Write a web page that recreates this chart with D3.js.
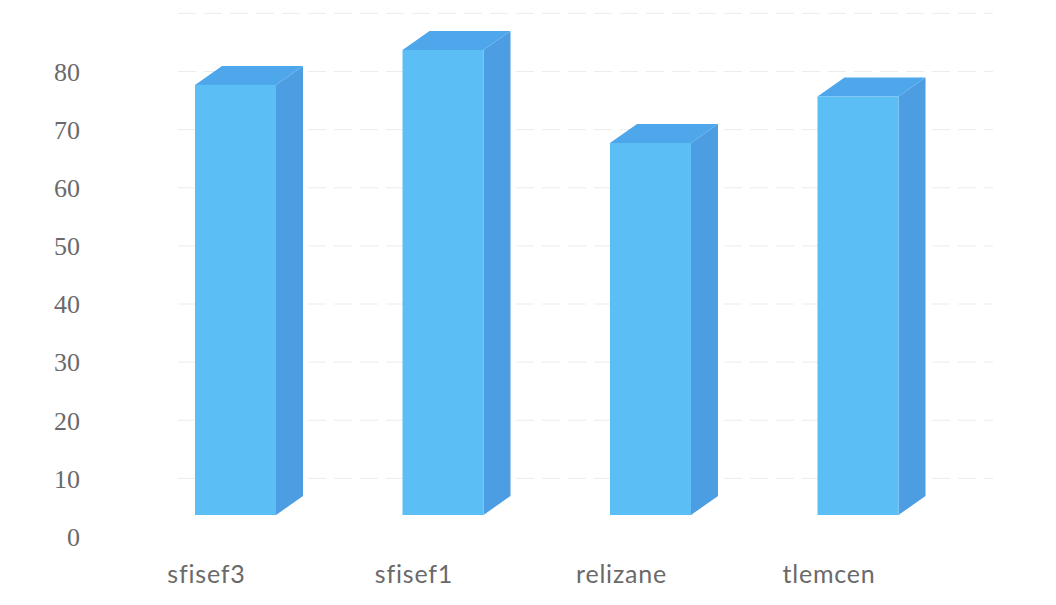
<!DOCTYPE html>
<html>
<head>
<meta charset="utf-8">
<script src="https://cdn.jsdelivr.net/npm/d3@7"></script>
<style>
  html, body { margin: 0; padding: 0; background: #ffffff; }
  svg { display: block; }
</style>
</head>
<body>
<svg id="chart" width="1056" height="605"></svg>
<script>
// Site names and their values
const categories = ["sfisef3", "sfisef1", "relizane", "tlemcen"];
const values = [74, 80, 64, 72];
const tickValues = [0, 10, 20, 30, 40, 50, 60, 70, 80];
const gridValues = [10, 20, 30, 40, 50, 60, 70, 80, 90];

const svg = d3.select("#chart");

// Front-face value scale
const y = d3.scaleLinear().domain([0, 80]).range([515, 50]);
// Back-wall (gridline / tick label) positions sit slightly lower in the projection
const wall = v => y(v) + 21.5;

// Column centres (front face)
const x = d3.scalePoint().domain(categories).range([235.5, 858]);
const barW = 81;
const depthX = 27, depthY = -19;

const colors = { front: "#5bbef4", top: "#4ea7ea", side: "#4c9de2" };

// Back-wall gridlines
svg.append("g")
  .selectAll("line")
  .data(gridValues)
  .join("line")
  .attr("x1", 178).attr("x2", 993)
  .attr("y1", d => wall(d)).attr("y2", d => wall(d))
  .attr("stroke", "#ececec")
  .attr("stroke-width", 1)
  .attr("stroke-dasharray", "18 8");

// Value axis labels
const yAxis = d3.axisLeft(d3.scaleLinear().domain([0, 80]).range([wall(0), wall(80)]))
  .tickValues(tickValues)
  .tickSize(0)
  .tickPadding(0);
const yg = svg.append("g").attr("transform", "translate(80,0)").call(yAxis);
yg.select(".domain").remove();
yg.selectAll("text")
  .attr("fill", "#6a6a6a")
  .attr("font-family", "'Liberation Serif', 'DejaVu Serif', serif")
  .attr("font-size", 26)
  .attr("dy", "0.34em");

// 3D columns
const bars = svg.append("g").selectAll("g")
  .data(categories.map((c, i) => ({ c, v: values[i] })))
  .join("g");

bars.each(function (d) {
  const g = d3.select(this);
  const x0 = x(d.c) - barW / 2, x1 = x0 + barW;
  const yt = y(d.v), yb = y(0);
  // side face
  g.append("path")
    .attr("d", `M${x1},${yt} L${x1 + depthX},${yt + depthY} L${x1 + depthX},${yb + depthY} L${x1},${yb} Z`)
    .attr("fill", colors.side);
  // top face
  g.append("path")
    .attr("d", `M${x0},${yt} L${x0 + depthX},${yt + depthY} L${x1 + depthX},${yt + depthY} L${x1},${yt} Z`)
    .attr("fill", colors.top);
  // front face
  g.append("rect")
    .attr("x", x0).attr("y", yt)
    .attr("width", barW).attr("height", yb - yt)
    .attr("fill", colors.front);
});

// Category labels
svg.append("g").selectAll("text")
  .data(categories)
  .join("text")
  .attr("x", d => x(d) - 29)
  .attr("y", 574)
  .attr("dy", "0.35em")
  .attr("text-anchor", "middle")
  .attr("fill", "#6a6a6a")
  .attr("font-family", "Lato, 'Open Sans', sans-serif")
  .attr("font-size", 25)
  .attr("letter-spacing", 0.8)
  .text(d => d);
</script>
</body>
</html>
